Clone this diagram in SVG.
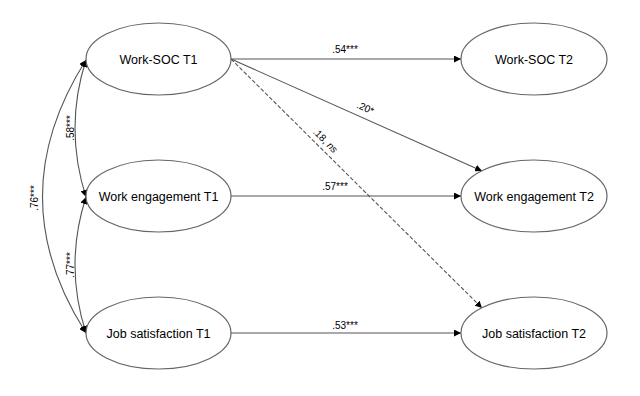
<svg xmlns="http://www.w3.org/2000/svg" width="640" height="396" viewBox="0 0 640 396">
<defs>
<marker id="ah" viewBox="0 0 10 10" refX="10" refY="5" markerWidth="7" markerHeight="7" markerUnits="userSpaceOnUse" orient="auto-start-reverse">
<path d="M0,0 L10,5 L0,10 z" fill="#000"/>
</marker>
<style>
.node ellipse{fill:#fff;stroke:#666;stroke-width:1.2}
.node text{font-family:"Liberation Sans",Arial,sans-serif;font-size:12.5px;fill:#000;text-anchor:middle}
.conn path,.conn line{fill:none;stroke:#555;stroke-width:1.1}
.lbl{font-family:"Liberation Sans",Arial,sans-serif;font-size:10px;fill:#000;text-anchor:middle}
</style>
</defs>
<rect width="640" height="396" fill="#fff"/>
<g id="connectors" class="conn">
<line x1="231" y1="59" x2="461" y2="59" marker-end="url(#ah)"/>
<line x1="231" y1="59" x2="482" y2="171" marker-end="url(#ah)"/>
<line x1="231" y1="59" x2="482" y2="308" stroke-dasharray="4,2" stroke-width="0.9" marker-end="url(#ah)"/>
<line x1="231" y1="196" x2="461" y2="196" marker-end="url(#ah)"/>
<line x1="231" y1="333" x2="461" y2="333" marker-end="url(#ah)"/>
<path d="M86,60 Q64,128 86,197" marker-start="url(#ah)" marker-end="url(#ah)"/>
<path d="M86,197 Q64,265 86,333" marker-start="url(#ah)" marker-end="url(#ah)"/>
<path d="M86,60 Q-1,197 86,333" marker-start="url(#ah)" marker-end="url(#ah)"/>
<text class="lbl" x="345" y="53">.54***</text>
<text class="lbl" x="335" y="190">.57***</text>
<text class="lbl" x="345" y="329">.53***</text>
<text class="lbl" transform="translate(364,111) rotate(24)">.20*</text>
<text class="lbl" transform="translate(323,143) rotate(45)">.18, <tspan font-style="italic">ns</tspan></text>
<text class="lbl" transform="translate(74,128) rotate(-90)">.58***</text>
<text class="lbl" transform="translate(74,265) rotate(-90)">.77***</text>
<text class="lbl" transform="translate(38,198) rotate(-90)">.76***</text>
</g>
<g id="work-soc-t1" class="node"><ellipse cx="158.5" cy="59" rx="72.5" ry="36"/><text x="158.5" y="63.5">Work-SOC T1</text></g>
<g id="work-engagement-t1" class="node"><ellipse cx="158.5" cy="196" rx="72.5" ry="36"/><text x="158.5" y="200.5">Work engagement T1</text></g>
<g id="job-satisfaction-t1" class="node"><ellipse cx="158.5" cy="333" rx="72.5" ry="36"/><text x="158.5" y="337.5">Job satisfaction T1</text></g>
<g id="work-soc-t2" class="node"><ellipse cx="534" cy="59" rx="73" ry="36"/><text x="534" y="63.5">Work-SOC T2</text></g>
<g id="work-engagement-t2" class="node"><ellipse cx="534" cy="196" rx="73" ry="36"/><text x="534" y="200.5">Work engagement T2</text></g>
<g id="job-satisfaction-t2" class="node"><ellipse cx="534" cy="333" rx="73" ry="36"/><text x="534" y="337.5">Job satisfaction T2</text></g>
</svg>
